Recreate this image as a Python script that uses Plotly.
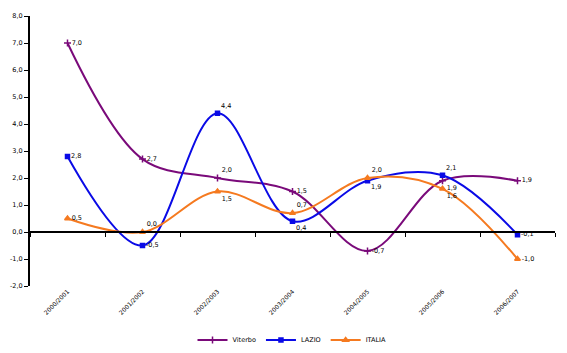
import plotly.graph_objects as go

categories = ["2000/2001", "2001/2002", "2002/2003", "2003/2004", "2004/2005", "2005/2006", "2006/2007"]
viterbo = [7.0, 2.7, 2.0, 1.5, -0.7, 1.9, 1.9]
lazio = [2.8, -0.5, 4.4, 0.4, 1.9, 2.1, -0.1]
italia = [0.5, 0.0, 1.5, 0.7, 2.0, 1.6, -1.0]
ytick_vals = [-2, -1, 0, 1, 2, 3, 4, 5, 6, 7, 8]

pos_viterbo = ["middle right", "middle right", "top right", "middle right", "middle right", "bottom right", "middle right"]
pos_lazio = ["middle right", "middle right", "top right", "bottom right", "bottom right", "top right", "middle right"]
pos_italia = ["middle right", "top right", "bottom right", "top right", "top right", "bottom right", "middle right"]

def fmt(v):
    return f"{v:.1f}".replace(".", ",")

FONT = "DejaVu Sans"
fig = go.Figure()
series = [
    ("Viterbo", viterbo, "#7A0A7A", "cross-thin-open", pos_viterbo, 5),
    ("LAZIO", lazio, "#0A0AE6", "square", pos_lazio, 4),
    ("ITALIA", italia, "#F57A20", "triangle-up", pos_italia, 5),
]
for name, vals, col, sym, pos, ms in series:
    fig.add_trace(go.Scatter(
        x=categories, y=vals, name=name, mode="lines+markers+text",
        line=dict(color=col, width=2, shape="spline", smoothing=1.0),
        marker=dict(color=col, symbol=sym, size=ms, line=dict(color=col, width=1.5)),
        text=[fmt(v) for v in vals], textposition=pos,
        textfont=dict(family=FONT, size=6.5, color="black"),
        cliponaxis=False,
    ))

# invisible trace to carry the zero-level axis with boundary ticks
fig.add_trace(go.Scatter(x=categories, y=[0] * len(categories), xaxis="x2",
                         mode="lines", line=dict(width=0), showlegend=False,
                         hoverinfo="skip"))

fig.update_layout(
    width=567, height=353,
    margin=dict(l=30, r=12, t=16, b=67, autoexpand=False),
    paper_bgcolor="white", plot_bgcolor="white",
    font=dict(family=FONT, size=6.5, color="black"),
    showlegend=True,
    legend=dict(orientation="h", x=0.515, xanchor="center", xref="container",
                y=0.037, yanchor="middle", yref="container",
                font=dict(size=6.5), itemwidth=30, tracegroupgap=0),
    xaxis=dict(type="category", range=[-0.5, 6.5], showline=False, showgrid=False,
               zeroline=False, ticks="", tickangle=-45, tickfont=dict(size=6),
               automargin=False),
    xaxis2=dict(type="category", overlaying="x", anchor="free", position=0.2,
                range=[-0.5, 6.5], showline=True, linecolor="black", linewidth=2,
                ticks="outside", tickson="boundaries", ticklen=4, tickwidth=1,
                tickcolor="black", showticklabels=False, showgrid=False, zeroline=False,
                automargin=False),
    yaxis=dict(range=[-2, 8], tickvals=ytick_vals, ticktext=[fmt(v) for v in ytick_vals],
               showline=True, linecolor="black", linewidth=2, ticks="outside",
               ticklen=4, tickcolor="black", showgrid=False, zeroline=False,
               tickfont=dict(size=6.5), automargin=False),
)

fig.write_html("out.html")
